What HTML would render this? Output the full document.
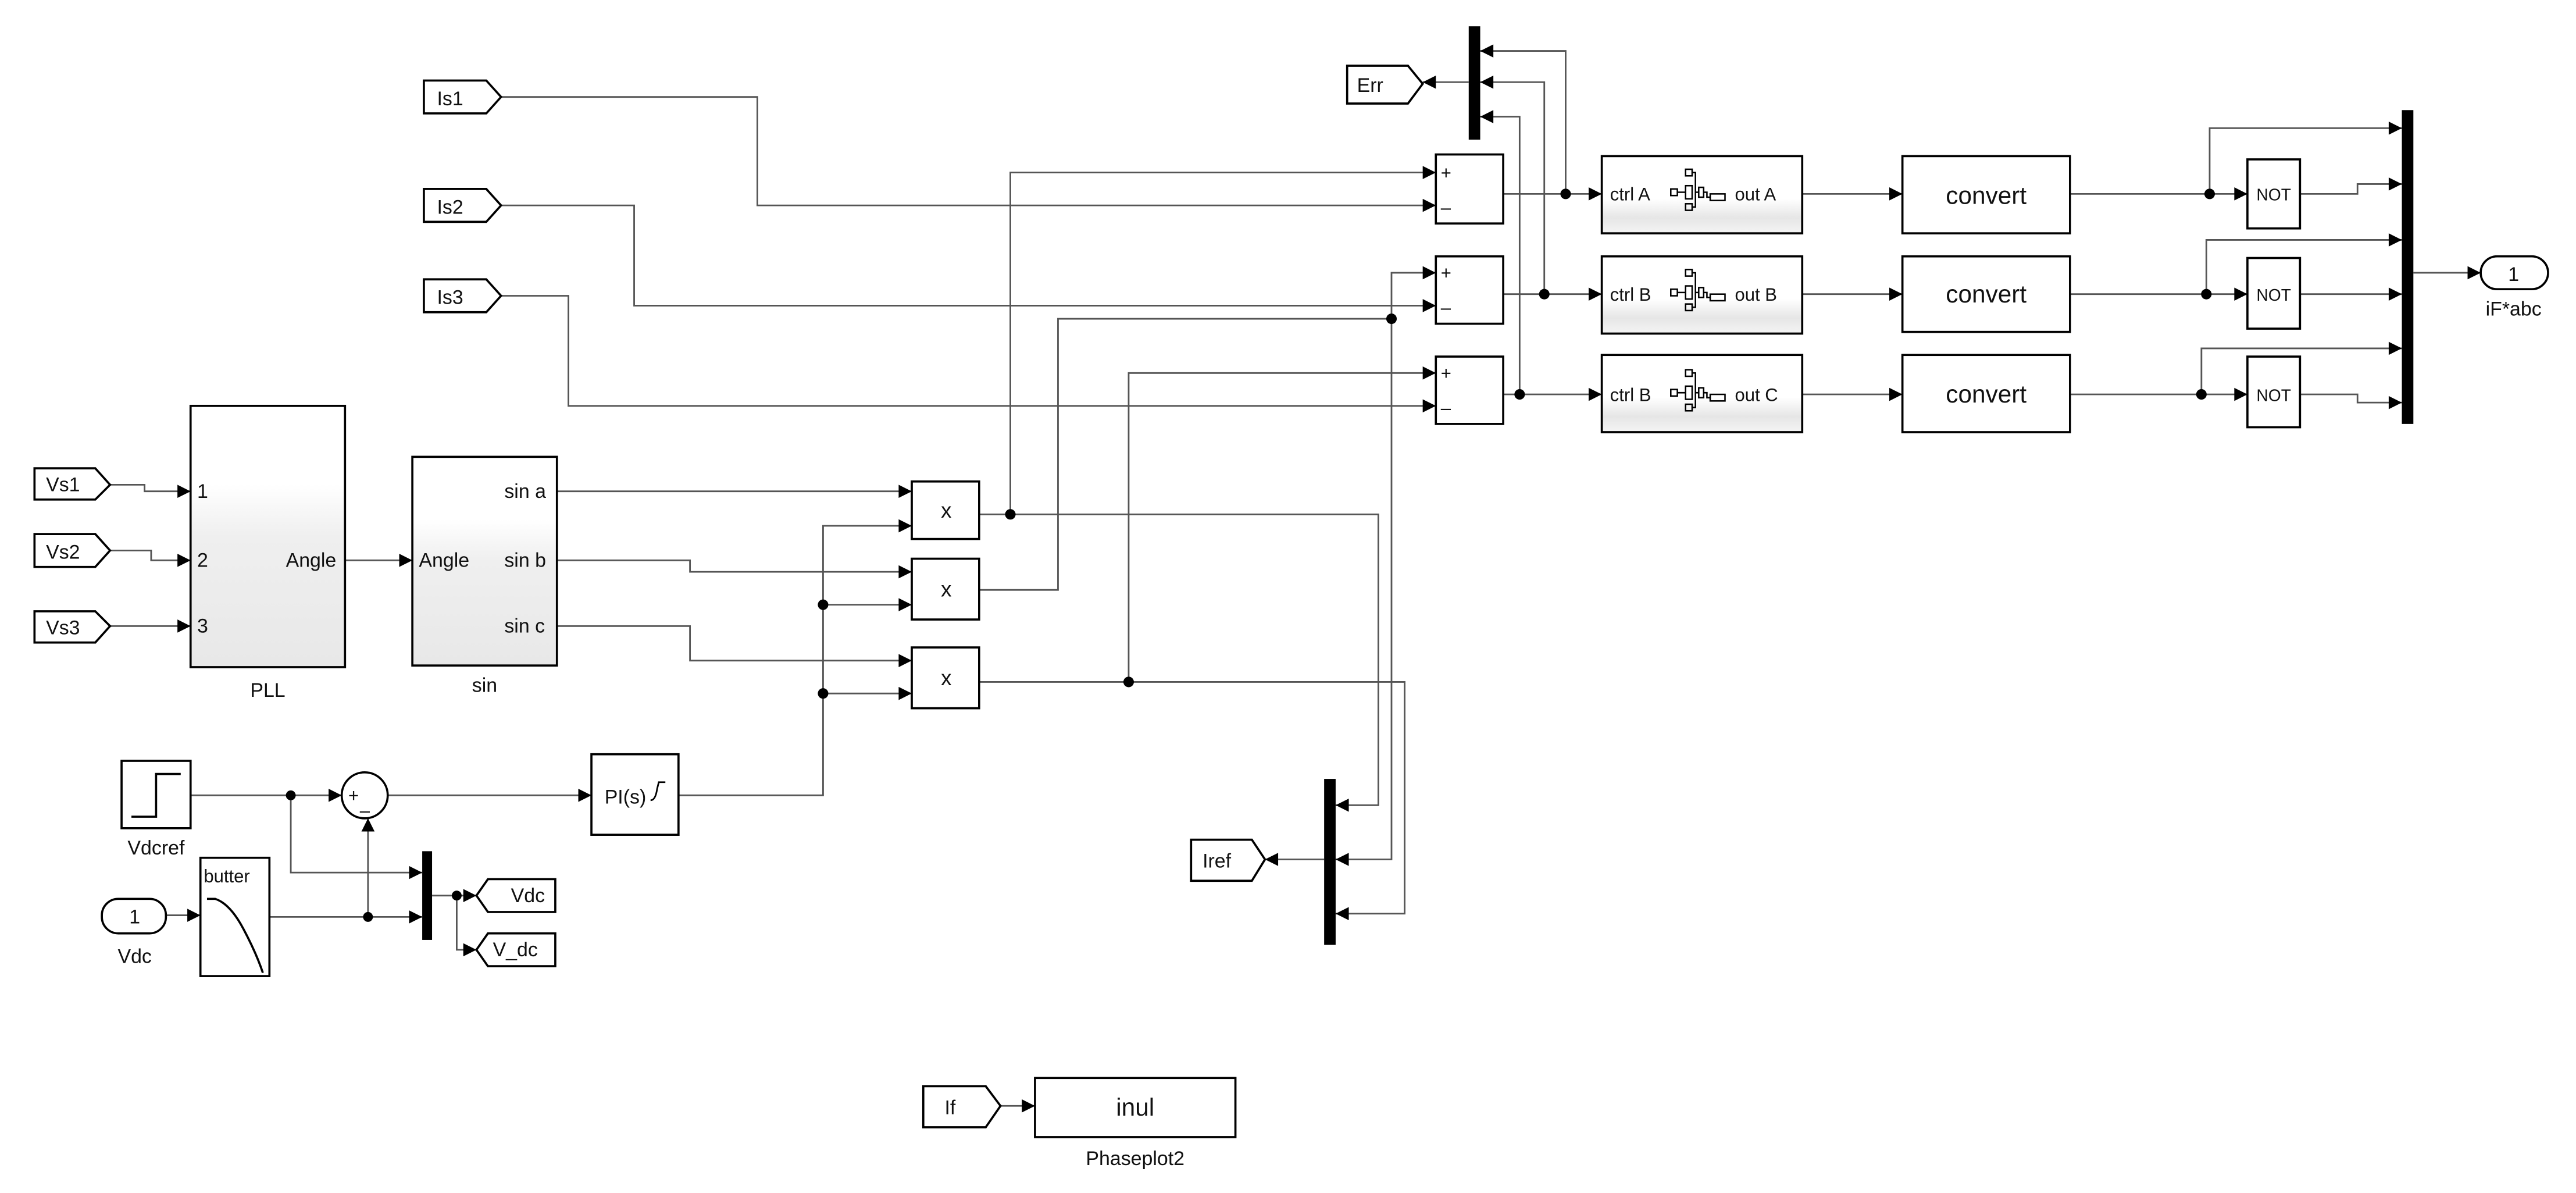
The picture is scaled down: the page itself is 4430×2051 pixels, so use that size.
<!DOCTYPE html>
<html><head><meta charset="utf-8"><style>
html,body{margin:0;padding:0;background:#fff;}
svg{display:block;}
text{font-family:"Liberation Sans",sans-serif;fill:#111;}
</style></head><body>
<svg width="4430" height="2051" viewBox="0 0 1568 726" preserveAspectRatio="none" xmlns="http://www.w3.org/2000/svg">
<defs>
<marker id="a" viewBox="0 0 10 10" refX="10" refY="5" markerWidth="9" markerHeight="8" markerUnits="userSpaceOnUse" orient="auto">
<path d="M0,0 L10,5 L0,10 z" fill="#000"/></marker>
<linearGradient id="g" x1="0" y1="0" x2="0" y2="1">
<stop offset="0" stop-color="#fff"/><stop offset="0.55" stop-color="#fff"/><stop offset="0.8" stop-color="#e6e6e6"/><stop offset="1" stop-color="#f4f4f4"/></linearGradient>
<linearGradient id="g2" x1="0" y1="0" x2="0" y2="1">
<stop offset="0" stop-color="#fff"/><stop offset="0.3" stop-color="#fff"/><stop offset="0.5" stop-color="#efefef"/><stop offset="1" stop-color="#e8e8e8"/></linearGradient>
</defs>
<g fill="none" stroke="#555" stroke-width="1">
<!-- Is lines -->
<path d="M305,59 H461 V125 H874" marker-end="url(#a)"/>
<path d="M305,125 H386 V186 H874" marker-end="url(#a)"/>
<path d="M305,180 H346 V247 H874" marker-end="url(#a)"/>
<!-- sum outputs to ctrl -->
<path d="M915,118 H975" marker-end="url(#a)"/>
<path d="M915,179 H975" marker-end="url(#a)"/>
<path d="M915,240 H975" marker-end="url(#a)"/>
<!-- err feedback -->
<path d="M953,118 V31 H901" marker-end="url(#a)"/>
<path d="M940,179 V50 H901" marker-end="url(#a)"/>
<path d="M925,240 V71 H901" marker-end="url(#a)"/>
<path d="M894,50 H866" marker-end="url(#a)"/>
<!-- ctrl to convert -->
<path d="M1097,118 H1158" marker-end="url(#a)"/>
<path d="M1097,179 H1158" marker-end="url(#a)"/>
<path d="M1097,240 H1158" marker-end="url(#a)"/>
<!-- convert to NOT -->
<path d="M1260,118 H1368" marker-end="url(#a)"/>
<path d="M1260,179 H1368" marker-end="url(#a)"/>
<path d="M1260,240 H1368" marker-end="url(#a)"/>
<path d="M1345,118 V78 H1462" marker-end="url(#a)"/>
<path d="M1343,179 V146 H1462" marker-end="url(#a)"/>
<path d="M1340,240 V212 H1462" marker-end="url(#a)"/>
<path d="M1400,118 H1435 V112 H1462" marker-end="url(#a)"/>
<path d="M1400,179 H1462" marker-end="url(#a)"/>
<path d="M1400,240 H1435 V245 H1462" marker-end="url(#a)"/>
<path d="M1469,166 H1510" marker-end="url(#a)"/>
<!-- Vs to PLL -->
<path d="M67,295 H88 V299 H116" marker-end="url(#a)"/>
<path d="M67,335 H92 V341 H116" marker-end="url(#a)"/>
<path d="M67,381 H116" marker-end="url(#a)"/>
<path d="M210,341 H251" marker-end="url(#a)"/>
<!-- sin outputs -->
<path d="M339,299 H555" marker-end="url(#a)"/>
<path d="M339,341 H420 V348 H555" marker-end="url(#a)"/>
<path d="M339,381 H420 V402 H555" marker-end="url(#a)"/>
<!-- PI output -->
<path d="M413,484 H501 V320 H555" marker-end="url(#a)"/>
<path d="M501,368 H555" marker-end="url(#a)"/>
<path d="M501,422 H555" marker-end="url(#a)"/>
<!-- mult outputs -->
<path d="M596,313 H839 V490 H813" marker-end="url(#a)"/>
<path d="M615,313 V105 H874" marker-end="url(#a)"/>
<path d="M596,359 H644 V194 H847"/>
<path d="M847,194 V166 H874" marker-end="url(#a)"/>
<path d="M847,194 V523 H813" marker-end="url(#a)"/>
<path d="M596,415 H855 V556 H813" marker-end="url(#a)"/>
<path d="M687,415 V227 H874" marker-end="url(#a)"/>
<path d="M806,523 H770" marker-end="url(#a)"/>
<!-- Vdc section -->
<path d="M116,484 H208" marker-end="url(#a)"/>
<path d="M236,484 H360" marker-end="url(#a)"/>
<path d="M177,484 V531 H257" marker-end="url(#a)"/>
<path d="M101,557 H122" marker-end="url(#a)"/>
<path d="M164,558 H257" marker-end="url(#a)"/>
<path d="M224,558 V498" marker-end="url(#a)"/>
<path d="M263,545 H290" marker-end="url(#a)"/>
<path d="M278,545 V578 H290" marker-end="url(#a)"/>
<path d="M609,673 H630" marker-end="url(#a)"/>
</g>
<!-- dots -->
<g fill="#000">
<circle cx="953" cy="118" r="3.2"/><circle cx="940" cy="179" r="3.2"/><circle cx="925" cy="240" r="3.2"/>
<circle cx="1345" cy="118" r="3.2"/><circle cx="1343" cy="179" r="3.2"/><circle cx="1340" cy="240" r="3.2"/>
<circle cx="615" cy="313" r="3.2"/><circle cx="847" cy="194" r="3.2"/><circle cx="687" cy="415" r="3.2"/>
<circle cx="501" cy="368" r="3.2"/><circle cx="501" cy="422" r="3.2"/>
<circle cx="177" cy="484" r="3"/><circle cx="224" cy="558" r="3"/><circle cx="278" cy="545" r="3"/>
<!-- muxes -->
<rect x="894" y="16" width="7" height="69"/>
<rect x="1462" y="67" width="7" height="191"/>
<rect x="806" y="474" width="7" height="101"/>
<rect x="257" y="518" width="6" height="54"/>
</g>
<g stroke="#000" stroke-width="1.3" fill="#fff">
<!-- tags -->
<polygon points="258,49 296,49 305,59 296,69 258,69"/>
<polygon points="258,115 296,115 305,125 296,135 258,135"/>
<polygon points="258,170 296,170 305,180 296,190 258,190"/>
<polygon points="820,40 857,40 866,51 857,63 820,63"/>
<polygon points="21,285 58,285 67,295 58,304 21,304"/>
<polygon points="21,325 58,325 67,335 58,345 21,345"/>
<polygon points="21,372 58,372 67,381 58,391 21,391"/>
<polygon points="725,511 762,511 770,523 762,536 725,536"/>
<polygon points="562,661 600,661 609,673 600,686 562,686"/>
<polygon points="297,535 338,535 338,555 297,555 290,545"/>
<polygon points="297,568 338,568 338,588 297,588 290,578"/>
<!-- sums -->
<rect x="874" y="94" width="41" height="42"/>
<rect x="874" y="156" width="41" height="41"/>
<rect x="874" y="217" width="41" height="41"/>
<!-- ctrl -->
<rect x="975" y="95" width="122" height="47" fill="url(#g)"/>
<rect x="975" y="156" width="122" height="47" fill="url(#g)"/>
<rect x="975" y="216" width="122" height="47" fill="url(#g)"/>
<!-- convert -->
<rect x="1158" y="95" width="102" height="47"/>
<rect x="1158" y="156" width="102" height="46"/>
<rect x="1158" y="216" width="102" height="47"/>
<!-- NOT -->
<rect x="1368" y="97" width="32" height="42"/>
<rect x="1368" y="157" width="32" height="43"/>
<rect x="1368" y="217" width="32" height="43"/>
<rect x="1510" y="156" width="41" height="20" rx="10"/>
<!-- PLL / sin -->
<rect x="116" y="247" width="94" height="159" fill="url(#g2)"/>
<rect x="251" y="278" width="88" height="127" fill="url(#g2)"/>
<!-- multipliers -->
<rect x="555" y="293" width="41" height="35"/>
<rect x="555" y="340" width="41" height="37"/>
<rect x="555" y="394" width="41" height="37"/>
<rect x="360" y="459" width="53" height="49"/>
<rect x="74" y="463" width="42" height="41"/>
<circle cx="222" cy="484" r="14"/>
<rect x="62" y="547" width="39" height="21" rx="10"/>
<rect x="122" y="522" width="42" height="72"/>
<rect x="630" y="656" width="122" height="36"/>
</g>
<!-- step and butter icons -->
<path d="M80,497 H95 V471 H110" fill="none" stroke="#000" stroke-width="1.3"/>
<path d="M126,547 H131 Q140,550 148,565 Q156,580 160,592" fill="none" stroke="#000" stroke-width="1.3"/>
<!-- ctrl mini icons -->
<g fill="none" stroke="#000" stroke-width="0.9">
<g id="ic"><rect x="1017" y="115" width="4" height="4"/><rect x="1026" y="103" width="4" height="4"/><rect x="1026" y="113" width="4" height="8"/><rect x="1026" y="124" width="4" height="4"/><rect x="1034" y="114" width="3" height="6"/><rect x="1041" y="118" width="9" height="4"/><path d="M1021,117 H1026 M1030,105 H1032 V117 H1034 M1030,126 H1032 V117 M1037,117 H1039 V120 H1041"/></g>
<use href="#ic" transform="translate(0,61)"/>
<use href="#ic" transform="translate(0,122)"/>
</g>
<!-- texts -->
<g font-size="12">
<text x="266" y="64">Is1</text><text x="266" y="130">Is2</text><text x="266" y="185">Is3</text>
<text x="826" y="56">Err</text>
<text x="28" y="299">Vs1</text><text x="28" y="340">Vs2</text><text x="28" y="386">Vs3</text>
<text x="732" y="528">Iref</text><text x="575" y="678">If</text>
<text x="311" y="549">Vdc</text><text x="300" y="582">V_dc</text>
<text x="120" y="303">1</text><text x="120" y="345">2</text><text x="120" y="385">3</text>
<text x="174" y="345">Angle</text><text x="255" y="345">Angle</text>
<text x="307" y="303">sin a</text><text x="307" y="345">sin b</text><text x="307" y="385">sin c</text>
<text x="163" y="424" text-anchor="middle">PLL</text><text x="295" y="421" text-anchor="middle">sin</text>
<text x="95" y="520" text-anchor="middle">Vdcref</text><text x="82" y="586" text-anchor="middle">Vdc</text>
<text x="82" y="562" text-anchor="middle">1</text>
<text x="1530" y="171" text-anchor="middle">1</text>
<text x="1530" y="192" text-anchor="middle">iF*abc</text>
<text x="691" y="709" text-anchor="middle">Phaseplot2</text>
<text x="368" y="489">PI(s)</text>
<text x="124" y="537" font-size="11">butter</text>
</g>
<path d="M396,487 Q399,487 400,480 L401,476 H405" fill="none" stroke="#000" stroke-width="1"/>
<g font-size="13" text-anchor="middle">
<text x="576" y="315">x</text><text x="576" y="363">x</text><text x="576" y="417">x</text>
</g>
<g font-size="11">
<text x="877" y="109">+</text><text x="877" y="130">–</text>
<text x="877" y="170">+</text><text x="877" y="191">–</text>
<text x="877" y="231">+</text><text x="877" y="252">–</text>
<text x="212" y="488">+</text><text x="219" y="497">–</text>
<text x="980" y="122">ctrl A</text><text x="1056" y="122">out A</text>
<text x="980" y="183">ctrl B</text><text x="1056" y="183">out B</text>
<text x="980" y="244">ctrl B</text><text x="1056" y="244">out C</text>
<text x="1384" y="122" text-anchor="middle" font-size="10">NOT</text>
<text x="1384" y="183" text-anchor="middle" font-size="10">NOT</text>
<text x="1384" y="244" text-anchor="middle" font-size="10">NOT</text>
</g>
<g font-size="15" text-anchor="middle">
<text x="1209" y="124">convert</text><text x="1209" y="184">convert</text><text x="1209" y="245">convert</text>
<text x="691" y="679">inul</text>
</g>
</svg>
</body></html>
